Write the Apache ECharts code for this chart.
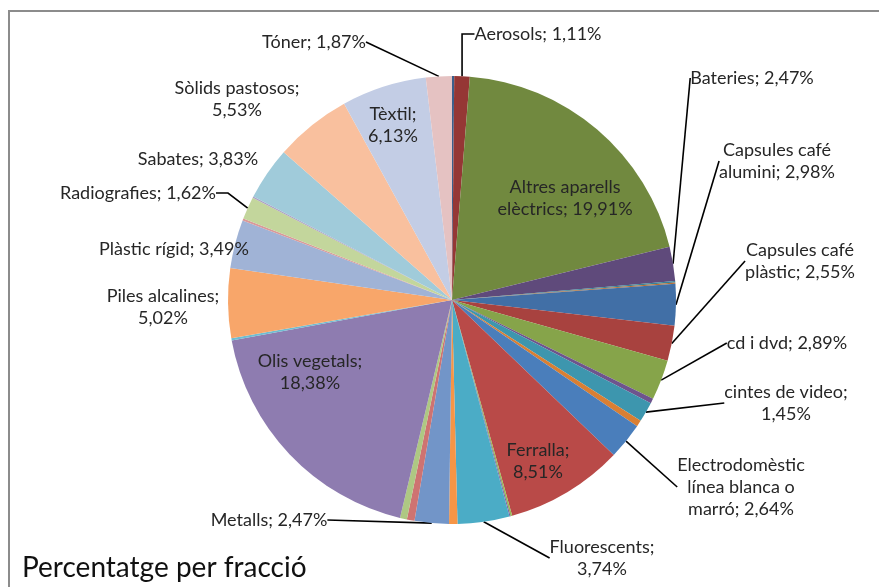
<!DOCTYPE html>
<html>
<head>
<meta charset="utf-8">
<script src="https://cdn.jsdelivr.net/npm/echarts@6/dist/echarts.min.js"></script>
<style>
  html, body { margin: 0; padding: 0; background: #fff; }
  #chart { width: 879px; height: 587px; }
</style>
</head>
<body>
<div id="chart"></div>
<script>
// slices clockwise from 12 o'clock; unnamed ones are the unlabelled slivers
const categories = [
  '', 'Aerosols', 'Altres aparells elèctrics', 'Bateries', '', '',
  'Capsules café alumini', 'Capsules café plàstic', 'cd i dvd', '', 'cintes de video', '',
  'Electrodomèstic línea blanca o marró', 'Ferralla', '', '', 'Fluorescents', '',
  'Metalls', '', '', 'Olis vegetals', '', 'Piles alcalines',
  'Plàstic rígid', '', 'Radiografies', '', 'Sabates', 'Sòlids pastosos',
  'Tèxtil', 'Tóner'
];
const values = [
  0.16, 1.11, 19.91, 2.47, 0.10, 0.10,
  2.98, 2.55, 2.89, 0.35, 1.45, 0.45,
  2.64, 8.51, 0.12, 0.08, 3.74, 0.60,
  2.47, 0.55, 0.50, 18.38, 0.15, 5.02,
  3.49, 0.15, 1.62, 0.10, 3.83, 5.53,
  6.13, 1.87
];

const colors = [
  '#3b5f8c', '#953735', '#71893f', '#5f4a7b', '#368299', '#b96f32',
  '#416fa6', '#a8423f', '#86a44a', '#6e548d', '#3d96ae', '#d97f33',
  '#4a7ebb', '#b94a48', '#98b954', '#7e62a1', '#4bacc6', '#f69546',
  '#7295c8', '#ce7371', '#aec883', '#8e7cb0', '#6fbdd2', '#f8a66a',
  '#a0b3d6', '#d9999a', '#c3d69c', '#ada0c4', '#a0cbda', '#f9c09e',
  '#c3cde5', '#e5c2c2'
];

// label centre, word breaks, leader line
const labelSpec = {
  'Aerosols': { x: 538, y: 34, line: true, len2: 14 },
  'Altres aparells elèctrics': { x: 565, y: 198, br: [2] },
  'Bateries': { x: 752, y: 78, line: true },
  'Capsules café alumini': { x: 777, y: 161, br: [2], line: true },
  'Capsules café plàstic': { x: 800, y: 261, br: [2], line: true },
  'cd i dvd': { x: 787, y: 343, line: true },
  'cintes de video': { x: 786, y: 403, br: [3], line: true },
  'Electrodomèstic línea blanca o marró': { x: 741, y: 487, br: [1, 4], line: true },
  'Ferralla': { x: 538, y: 461, br: [1] },
  'Fluorescents': { x: 602, y: 558, br: [1], line: true },
  'Metalls': { x: 269, y: 520, line: true },
  'Olis vegetals': { x: 310, y: 372, br: [2] },
  'Piles alcalines': { x: 163, y: 307, br: [2] },
  'Plàstic rígid': { x: 174, y: 249 },
  'Radiografies': { x: 138, y: 193, line: true, len2: 12 },
  'Sabates': { x: 198, y: 159 },
  'Sòlids pastosos': { x: 237, y: 99, br: [2] },
  'Tèxtil': { x: 393, y: 125, br: [1] },
  'Tóner': { x: 314, y: 42, line: true }
};

function labelText(name, value) {
  const words = (name + '; ' + value.toFixed(2).replace('.', ',') + '%').split(' ');
  const br = (labelSpec[name] && labelSpec[name].br) || [];
  return words.map((w, i) => (i > 0 ? (br.indexOf(i) >= 0 ? '\n' : ' ') : '') + w).join('');
}

const pieData = categories.map((name, i) => {
  const spec = labelSpec[name];
  return {
    name: name,
    value: values[i],
    itemStyle: { color: colors[i] },
    label: { show: !!spec },
    labelLine: { show: !!(spec && spec.line), length2: (spec && spec.len2) || 0 }
  };
});

const chart = echarts.init(document.getElementById('chart'));

chart.setOption({
  animation: false,
  title: {
    text: 'Percentatge per fracció',
    left: 17,
    top: 549,
    textStyle: { fontFamily: 'Lato', fontSize: 28, fontWeight: 'normal', color: '#111' }
  },
  graphic: [{
    type: 'rect',
    shape: { x: 9, y: 11, width: 900, height: 620 },
    style: { fill: 'none', stroke: '#8c8c8c', lineWidth: 2 },
    silent: true
  }],
  series: [{
    type: 'pie',
    center: [452, 300],
    radius: 224,
    startAngle: 90,
    clockwise: true,
    avoidLabelOverlap: false,
    label: {
      position: 'outside',
      fontFamily: 'Lato',
      fontSize: 18,
      lineHeight: 22,
      color: '#262626',
      formatter: (p) => labelText(p.name, p.value)
    },
    labelLine: {
      show: true,
      length: 5,
      length2: 0,
      lineStyle: { color: '#000', width: 1.6 }
    },
    labelLayout: (p) => {
      const spec = labelSpec[categories[p.dataIndex]];
      if (!spec) return;
      return { x: spec.x, y: spec.y, align: 'center', verticalAlign: 'middle' };
    },
    emphasis: { disabled: true },
    data: pieData
  }]
});
</script>
</body>
</html>
